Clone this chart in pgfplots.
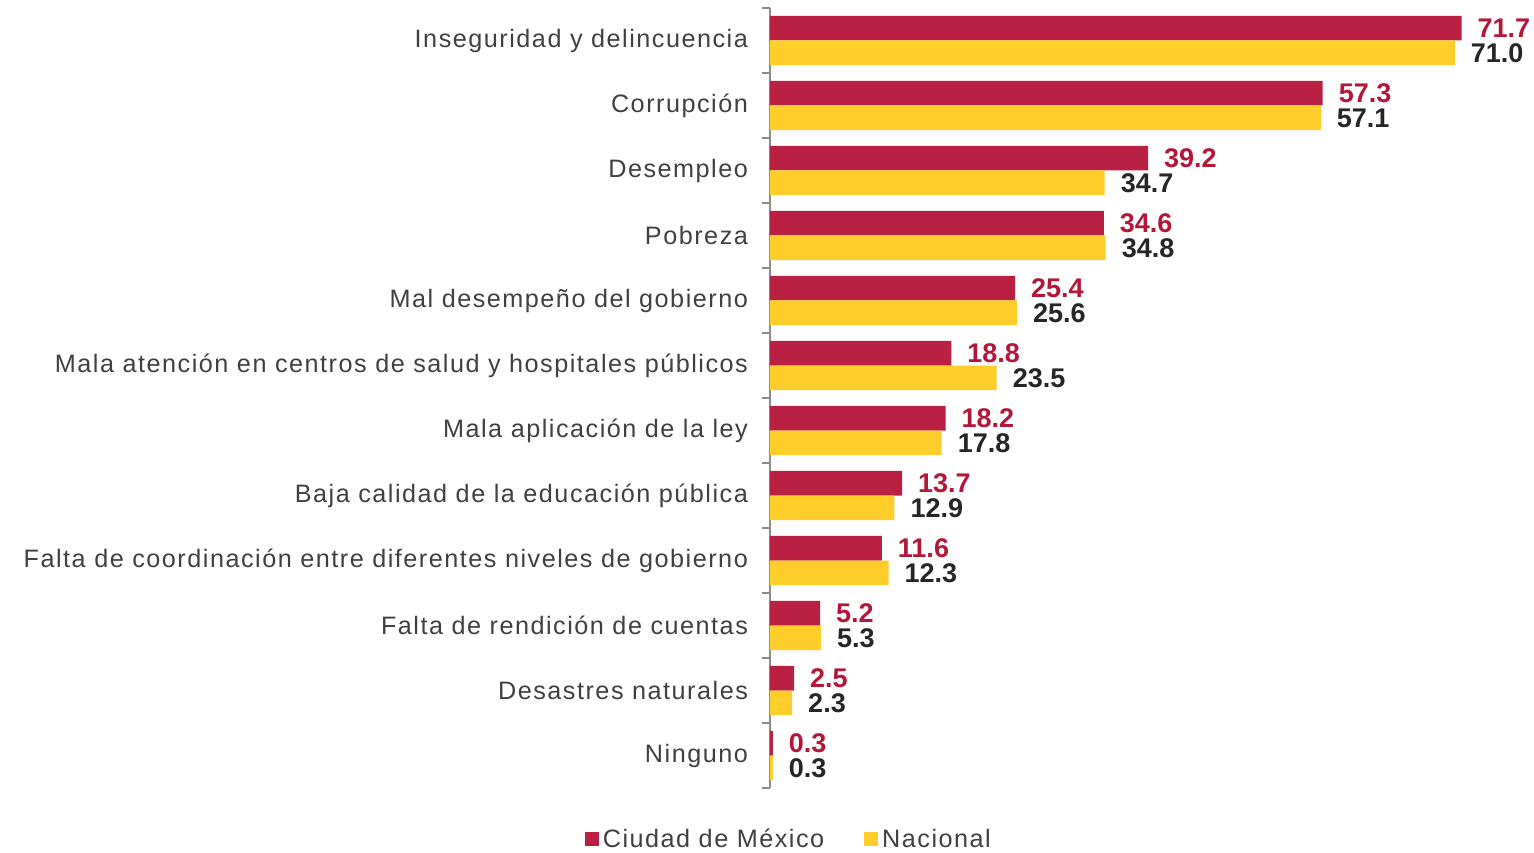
\documentclass[border=0pt]{standalone}
\usepackage{pgfplots}
\pgfplotsset{compat=1.18}
\usepackage{pgfplotstable}
\usepackage{fontspec}
\setmainfont{Liberation Sans}
\newfontfamily\labfont[LetterSpace=6]{Liberation Sans}
\definecolor{redF}{RGB}{186,32,66}
\definecolor{yelF}{RGB}{255,206,42}
\definecolor{redT}{RGB}{180,22,58}
\definecolor{darkT}{RGB}{38,38,38}
\definecolor{labT}{RGB}{64,64,64}
\definecolor{axG}{RGB}{140,140,140}
\pgfplotstableread{
y v
11 71.7
10 57.3
9 39.2
8 34.6
7 25.4
6 18.8
5 18.2
4 13.7
3 11.6
2 5.2
1 2.5
0 0.3
}\cdmx
\pgfplotstableread{
y v
11 71.0
10 57.1
9 34.7
8 34.8
7 25.6
6 23.5
5 17.8
4 12.9
3 12.3
2 5.3
1 2.3
0 0.3
}\nacional
\begin{document}
\begin{tikzpicture}
\begin{axis}[
  scale only axis,
  width=382pt, height=390pt,
  xmin=0, xmax=79.2,
  ymin=-0.5, ymax=11.5,
  clip=false,
  axis x line=none,
  axis y line*=left,
  axis line style={axG, line width=0.8pt, -},
  xtick=\empty,
  ytick={0,...,11},
  yticklabels={Ninguno, Desastres naturales, Falta de rendición de cuentas, Falta de coordinación entre diferentes niveles de gobierno, Baja calidad de la educación pública, Mala aplicación de la ley, Mala atención en centros de salud y hospitales públicos, Mal desempeño del gobierno, Pobreza, Desempleo, Corrupción, Inseguridad y delincuencia},
  major tick length=0pt,
  minor ytick={-0.5,0.5,...,11.5},
  minor tick length=4pt,
  tick align=outside,
  minor tick style={axG, line width=0.8pt},
  yticklabel style={font=\labfont\fontsize{12.6}{14}\selectfont, text=labT, xshift=-7.5pt},
  xbar, bar width=0.38,
  point meta=x,
  nodes near coords={\pgfmathprintnumber[fixed,fixed zerofill,precision=1,assume math mode=true]{\pgfplotspointmeta}},
  legend style={at={(0.026,-0.066)}, anchor=center, draw=none, legend columns=2,
    font=\labfont\fontsize{12.6}{14}\selectfont, text=labT, inner sep=0pt,
    /tikz/every odd column/.append style={column sep=0pt},
    /tikz/every even column/.append style={column sep=18pt}},
  legend image code/.code={\fill[#1] (0pt,-3.5pt) rectangle (7pt,3.5pt);},
]
\addplot[draw=none, fill=redF, bar shift=0.19,
  nodes near coords style={anchor=west, xshift=4.5pt, font=\bfseries\fontsize{13.5}{15}\selectfont, text=redT}]
  table[x=v, y=y] {\cdmx};
\addlegendentry{Ciudad de México}
\addplot[draw=none, fill=yelF, bar shift=-0.19,
  nodes near coords style={anchor=west, xshift=4.5pt, font=\bfseries\fontsize{13.5}{15}\selectfont, text=darkT}]
  table[x=v, y=y] {\nacional};
\addlegendentry{Nacional}
\end{axis}
\path (current axis.south west) ++(-385pt,-32pt) coordinate (BBA);
\path (current axis.north east) ++(0pt,4pt) coordinate (BBB);
\pgfresetboundingbox
\path[use as bounding box] (BBA) rectangle (BBB);
\end{tikzpicture}
\end{document}
